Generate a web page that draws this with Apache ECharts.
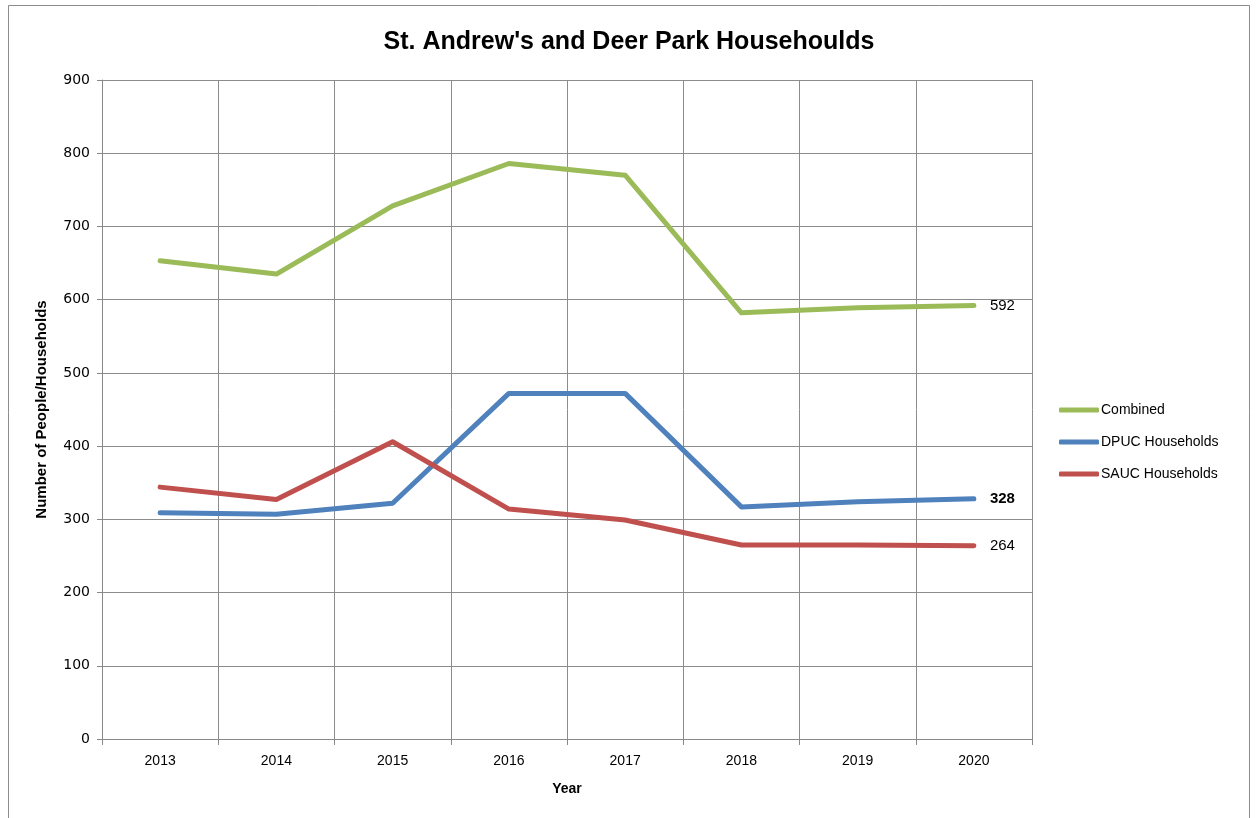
<!DOCTYPE html>
<html>
<head>
<meta charset="utf-8">
<script src="https://cdn.jsdelivr.net/npm/echarts@6/dist/echarts.min.js"></script>
<style>html,body{margin:0;padding:0;background:#fff}#c{width:1258px;height:818px}</style>
</head>
<body>
<div id="c"></div>
<script>
const years = ['2013','2014','2015','2016','2017','2018','2019','2020'];
const combined = [653, 635, 728, 786, 770, 582, 589, 592];
const dpuc = [309, 307, 322, 472, 472, 317, 324, 328];
const sauc = [344, 327, 406, 314, 299, 265, 265, 264];
const yTicks = [0, 100, 200, 300, 400, 500, 600, 700, 800, 900];

function endLabel(bold) {
  return { show: true, distance: 16, color: '#000', fontSize: 15,
    fontWeight: bold ? 'bold' : 'normal', fontFamily: 'Liberation Sans, Arial, sans-serif',
    formatter: (p) => String(p.value) };
}

const chart = echarts.init(document.getElementById('c'), null, { renderer: 'canvas' });
const lineStyle = (c) => ({ width: 5, color: c, cap: 'round', join: 'round' });
chart.setOption({
  animation: false,
  backgroundColor: '#fff',
  graphic: [{ type: 'rect', shape: { x: 8.5, y: 5.5, width: 1241, height: 830 },
    style: { fill: 'none', stroke: '#8c8c8c', lineWidth: 1 }, z: -1 }],
  title: {
    text: "St. Andrew's and Deer Park Househoulds",
    left: 'center', top: 25,
    textStyle: { fontSize: 25, fontWeight: 'bold', color: '#000', fontFamily: 'Liberation Sans Narrow, Liberation Sans, Arial, sans-serif' }
  },
  legend: {
    orient: 'vertical', left: 1054, top: 398, itemWidth: 40, itemHeight: 5, itemGap: 18,
    icon: 'roundRect',
    textStyle: { fontSize: 14, color: '#000', fontFamily: 'Liberation Sans, Arial, sans-serif', padding: [0,0,0,-3] },
    data: ['Combined', 'DPUC Households', 'SAUC Households']
  },
  grid: { left: 102, right: 226, top: 80, bottom: 79, containLabel: false },
  xAxis: {
    type: 'category', data: years, boundaryGap: true,
    name: 'Year', nameLocation: 'middle', nameGap: 43,
    nameTextStyle: { fontSize: 14, fontWeight: 'bold', color: '#000', fontFamily: 'Liberation Sans Narrow, Liberation Sans, sans-serif' },
    axisLine: { lineStyle: { color: '#888', width: 1 } },
    axisTick: { show: true, length: 6, inside: false, interval: 0, lineStyle: { color: '#888' } },
    axisLabel: { fontSize: 14, color: '#000', margin: 15, fontFamily: 'Liberation Sans, Arial, sans-serif' },
    splitLine: { show: true, interval: 0, lineStyle: { color: '#8c8c8c', width: 1 } }
  },
  yAxis: {
    type: 'value', min: yTicks[0], max: yTicks[yTicks.length - 1], interval: 100,
    name: 'Number of People/Households', nameLocation: 'middle', nameGap: 53,
    nameTextStyle: { fontSize: 15, fontWeight: 'bold', color: '#000', fontFamily: 'Liberation Sans Narrow, Liberation Sans, sans-serif' },
    axisLine: { show: true, lineStyle: { color: '#888', width: 1 } },
    axisTick: { show: true, length: 5, lineStyle: { color: '#888' } },
    axisLabel: { fontSize: 14, color: '#000', margin: 12, fontFamily: 'DejaVu Sans, Verdana, sans-serif' },
    splitLine: { show: true, lineStyle: { color: '#8c8c8c', width: 1 } }
  },
  series: [
    { name: 'Combined', type: 'line', data: combined, symbol: 'none',
      endLabel: endLabel(false),
      lineStyle: lineStyle('#9BBB59'), itemStyle: { color: '#9BBB59' } },
    { name: 'DPUC Households', type: 'line', data: dpuc, symbol: 'none',
      endLabel: endLabel(true),
      lineStyle: lineStyle('#4F81BD'), itemStyle: { color: '#4F81BD' } },
    { name: 'SAUC Households', type: 'line', data: sauc, symbol: 'none',
      endLabel: endLabel(false),
      lineStyle: lineStyle('#C0504D'), itemStyle: { color: '#C0504D' } }
  ]
});
</script>
</body>
</html>
